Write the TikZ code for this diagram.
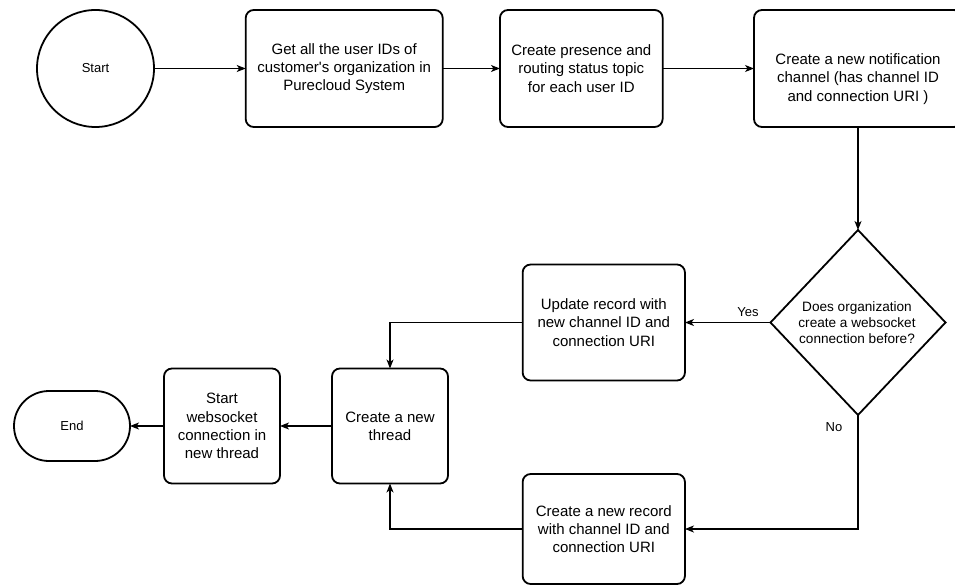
\documentclass[tikz,border=0pt]{standalone}
\usepackage{fontspec}
\setmainfont{Liberation Sans}
\usetikzlibrary{shapes.geometric,arrows.meta}

\begin{document}
\begin{tikzpicture}[x=1pt,y=-1pt,
  outline/.style={draw=black, line width=1.8pt, inner sep=0pt, outer sep=0pt},
  stepbox/.style={outline, rectangle, rounded corners=8pt, align=center,
    font=\fontsize{15}{18.3}\selectfont},
  terminal/.style={outline, font=\fontsize{13}{15.6}\selectfont},
  decision/.style={outline, diamond, minimum width=175pt, minimum height=185pt},
  dectext/.style={align=center, inner sep=0pt, font=\fontsize{13.6}{16.2}\selectfont},
  boxtext/.style={align=center, inner sep=0pt, font=\fontsize{15}{18.3}\selectfont},
  lbl/.style={inner sep=0pt, font=\fontsize{13}{15.6}\selectfont},
  flow/.style={line width=1.1pt, -{Stealth[length=9pt,width=7pt,inset=2.5pt]}},
]
\useasboundingbox (0,0) rectangle (955,585);

% top row
\node[terminal, circle, minimum size=117pt] (start) at (95.5,68.5) {Start};
\node[stepbox, minimum width=197pt, minimum height=117pt] (box1) at (344.2,68.5)
  {Get all the user IDs of\\customer\textquotesingle s organization in\\Purecloud System};
\node[stepbox, minimum width=162.7pt, minimum height=117pt] (box2) at (581.3,68.5)
  {Create presence and\\routing status topic\\for each user ID};
\node[stepbox, minimum width=208pt, minimum height=117pt] (box3) at (858,68.5) {};
\node[boxtext] (box3txt) at ([yshift=-10.5pt]box3.center)
  {Create a new notification\\channel (has channel ID\\and connection URI )};

% decision and its branches
\node[decision] (dec) at (858,322.5) {};
\node[dectext] (dectxt) at (857,322.7)
  {Does organization\\create a websocket\\connection before?};
\node[stepbox, minimum width=162.3pt, minimum height=116pt] (upd) at (603.8,322.5)
  {Update record with\\new channel ID and\\connection URI};
\node[stepbox, minimum width=162.3pt, minimum height=110pt] (rec) at (603.8,529)
  {Create a new record\\with channel ID and\\connection URI};

% bottom row
\node[stepbox, minimum width=116pt, minimum height=115pt] (thread) at (390,426)
  {Create a new\\thread};
\node[stepbox, minimum width=116pt, minimum height=115pt] (ws) at (222,426)
  {Start\\websocket\\connection in\\new thread};
\node[terminal, rectangle, rounded corners=35pt, minimum width=116pt, minimum height=70pt]
  (end) at (72,426) {End};

% connectors
\draw[flow] (start) -- (box1);
\draw[flow] (box1) -- (box2);
\draw[flow] (box2) -- (box3);
\draw[flow] (box3.south) -- (dec.north);
\draw[flow] (dec.west) -- (upd.east);
\node[lbl] (yes) at (748,312) {Yes};
\draw[flow] (dec.south) |- (rec.east);
\node[lbl] (no) at (834,427) {No};
\draw[flow] (upd.west) -| (thread.north);
\draw[flow] (rec.west) -| (thread.south);
\draw[flow] (thread.west) -- (ws.east);
\draw[flow] (ws.west) -- (end.east);
\end{tikzpicture}
\end{document}
